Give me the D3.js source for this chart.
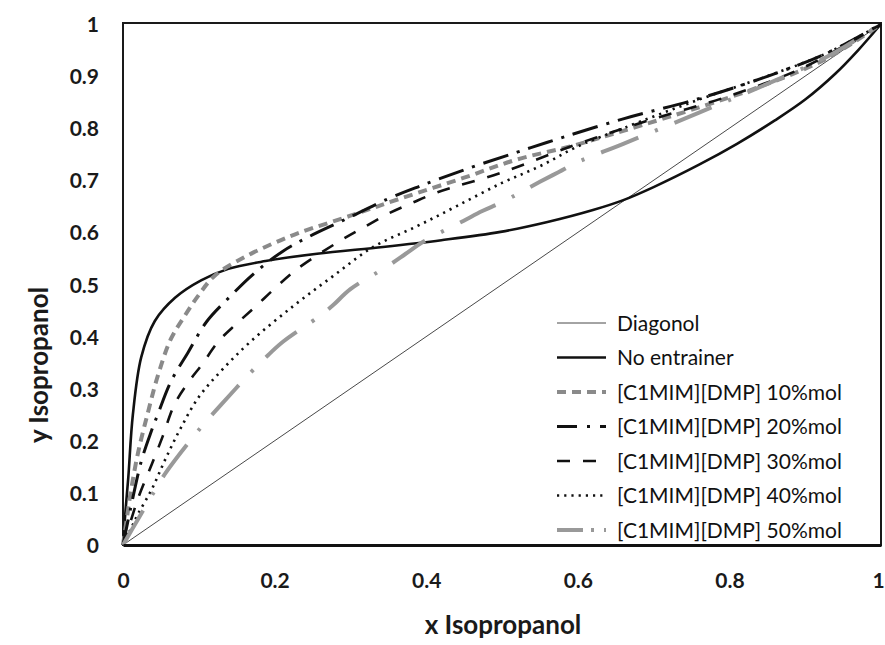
<!DOCTYPE html>
<html>
<head>
<meta charset="utf-8">
<script src="https://cdn.jsdelivr.net/npm/d3@7"></script>
<style>
  html, body { margin: 0; padding: 0; background: #fff; }
  svg { display: block; }
</style>
</head>
<body>
<script>
// tick labels
const xTicks = [0, 0.2, 0.4, 0.6, 0.8, 1]
const yTicks = [0, 0.1, 0.2, 0.3, 0.4, 0.5, 0.6, 0.7, 0.8, 0.9, 1]

// series values (x = liquid, y = vapour)
const diagX = [0, 1]
const diagY = [0, 1]

const noEntX = [0, 0.003, 0.007, 0.013, 0.024, 0.042, 0.069, 0.103, 0.139, 0.188, 0.256, 0.343, 0.42, 0.498, 0.56, 0.62, 0.66, 0.7, 0.76, 0.81, 0.86, 0.9, 0.94, 0.97, 1]
const noEntY = [0, 0.06, 0.13, 0.25, 0.36, 0.43, 0.475, 0.508, 0.53, 0.545, 0.559, 0.572, 0.585, 0.601, 0.62, 0.643, 0.662, 0.687, 0.73, 0.77, 0.815, 0.855, 0.905, 0.95, 1]

const il10X = [0, 0.005, 0.01, 0.02, 0.033, 0.046, 0.063, 0.0815, 0.1, 0.121, 0.161, 0.2, 0.234, 0.3, 0.366, 0.45, 0.52, 0.59, 0.66, 0.76, 0.85, 0.93, 1]
const il10Y = [0, 0.05, 0.1, 0.178, 0.255, 0.325, 0.395, 0.44, 0.48, 0.517, 0.553, 0.58, 0.6, 0.632, 0.665, 0.705, 0.74, 0.765, 0.795, 0.84, 0.885, 0.935, 1]

const il20X = [0, 0.01, 0.024, 0.037, 0.046, 0.063, 0.086, 0.11, 0.14, 0.172, 0.211, 0.247, 0.289, 0.349, 0.392, 0.45, 0.52, 0.56, 0.66, 0.758, 0.851, 0.93, 1]
const il20Y = [0, 0.07, 0.16, 0.217, 0.251, 0.313, 0.37, 0.428, 0.475, 0.52, 0.564, 0.593, 0.622, 0.664, 0.689, 0.72, 0.754, 0.773, 0.818, 0.856, 0.90, 0.945, 1]

const il30X = [0, 0.01, 0.02, 0.038, 0.052, 0.068, 0.086, 0.105, 0.126, 0.15, 0.175, 0.202, 0.23, 0.29, 0.318, 0.35, 0.382, 0.415, 0.5, 0.6, 0.7, 0.8, 0.9, 1]
const il30Y = [0, 0.045, 0.09, 0.155, 0.207, 0.27, 0.312, 0.348, 0.391, 0.425, 0.458, 0.495, 0.53, 0.587, 0.61, 0.636, 0.657, 0.677, 0.715, 0.77, 0.818, 0.862, 0.918, 1]

const il40X = [0, 0.01, 0.02, 0.038, 0.056, 0.076, 0.1, 0.13, 0.168, 0.225, 0.277, 0.33, 0.388, 0.441, 0.5, 0.55, 0.6, 0.66, 0.76, 0.85, 0.93, 1]
const il40Y = [0, 0.03, 0.06, 0.107, 0.165, 0.224, 0.284, 0.335, 0.39, 0.459, 0.516, 0.572, 0.612, 0.651, 0.695, 0.727, 0.765, 0.80, 0.855, 0.90, 0.945, 1]

const il50X = [0, 0.02, 0.04, 0.057, 0.09, 0.11, 0.128, 0.169, 0.189, 0.211, 0.26, 0.277, 0.30, 0.35, 0.373, 0.396, 0.449, 0.474, 0.50, 0.55, 0.575, 0.60, 0.66, 0.76, 0.85, 0.93, 1]
const il50Y = [0, 0.05, 0.1, 0.14, 0.203, 0.238, 0.267, 0.332, 0.361, 0.39, 0.44, 0.46, 0.491, 0.536, 0.559, 0.582, 0.622, 0.641, 0.658, 0.697, 0.716, 0.735, 0.77, 0.83, 0.885, 0.938, 1]

const seriesNames = ["Diagonol", "No entrainer", "[C1MIM][DMP] 10%mol", "[C1MIM][DMP] 20%mol",
    "[C1MIM][DMP] 30%mol", "[C1MIM][DMP] 40%mol", "[C1MIM][DMP] 50%mol"]

const xLabel = "x Isopropanol"
const yLabel = "y Isopropanol"

// styles for each series
const styles = [
    { color: "#333", width: 0.9, dash: null },
    { color: "#111", width: 2.6, dash: null },
    { color: "#8a8a8a", width: 4, dash: "9,6" },
    { color: "#111", width: 3, dash: "26,9,3,9" },
    { color: "#111", width: 2.6, dash: "13,13" },
    { color: "#111", width: 2.6, dash: "2.2,5" },
    { color: "#999", width: 4, dash: "40,18,3,18" }
]

const width = 885
const height = 645
const plotLeft = 123, plotRight = 881, plotTop = 24, plotBottom = 545

const svg = d3.select("body").append("svg")
    .attr("width", width)
    .attr("height", height)

const xScale = d3.scaleLinear().domain([0, 1]).range([plotLeft, plotRight])
const yScale = d3.scaleLinear().domain([0, 1]).range([plotBottom, plotTop])

const font = "Lato, 'Open Sans', sans-serif"

// frame
svg.append("rect")
    .attr("x", plotLeft).attr("y", plotTop - 1)
    .attr("width", plotRight - plotLeft).attr("height", plotBottom - plotTop + 1)
    .attr("fill", "none")
    .attr("stroke", "#1a1a1a")
    .attr("stroke-width", 2)

const allX = [diagX, noEntX, il10X, il20X, il30X, il40X, il50X]
const allY = [diagY, noEntY, il10Y, il20Y, il30Y, il40Y, il50Y]

const series = seriesNames.map((name, i) => ({
    name: name,
    style: styles[i],
    points: allX[i].map((x, j) => [x, allY[i][j]])
}))

const line = d3.line()
    .x(d => xScale(d[0]))
    .y(d => yScale(d[1]))
    .curve(d3.curveCatmullRom.alpha(0.5))

svg.append("g")
    .selectAll("path")
    .data(series)
    .join("path")
    .attr("d", d => line(d.points))
    .attr("fill", "none")
    .attr("stroke", d => d.style.color)
    .attr("stroke-width", d => d.style.width)
    .attr("stroke-dasharray", d => d.style.dash)
    .attr("stroke-linecap", "butt")
    .attr("stroke-linejoin", "round")

// x axis
const xAxis = d3.axisBottom(xScale).tickValues(xTicks).tickSize(0).tickFormat(d3.format("~g"))
svg.append("g")
    .attr("transform", `translate(0,${plotBottom})`)
    .call(xAxis)
    .call(g => g.select(".domain").attr("stroke", "#111").attr("stroke-width", 3))
    .call(g => g.selectAll("text")
        .attr("y", 43)
        .attr("dy", 0)
        .attr("x", d => d === 1 ? -3 : 0)
        .attr("fill", "#1a1a1a")
        .style("font-family", font)
        .style("font-weight", "bold")
        .style("font-size", "21px"))

// y axis
const yAxis = d3.axisLeft(yScale).tickValues(yTicks).tickSize(0).tickFormat(d3.format("~g"))
svg.append("g")
    .attr("transform", `translate(${plotLeft},0)`)
    .call(yAxis)
    .call(g => g.select(".domain").remove())
    .call(g => g.selectAll("text")
        .attr("x", -24)
        .attr("dy", "0.36em")
        .attr("fill", "#1a1a1a")
        .style("font-family", font)
        .style("font-weight", "bold")
        .style("font-size", "21px"))

// axis titles
svg.append("text")
    .attr("x", (plotLeft + plotRight) / 2 + 1)
    .attr("y", 634)
    .attr("text-anchor", "middle")
    .attr("fill", "#1a1a1a")
    .style("font-family", font)
    .style("font-weight", "bold")
    .style("font-size", "26px")
    .text(xLabel)

svg.append("text")
    .attr("transform", "translate(48,365) rotate(-90)")
    .attr("text-anchor", "middle")
    .attr("fill", "#1a1a1a")
    .style("font-family", font)
    .style("font-weight", "bold")
    .style("font-size", "26px")
    .text(yLabel)

// legend
const legX = 557, legLen = 49, legTextX = 617, legY = 323, legStep = 34.5

const leg = svg.append("g")
    .selectAll("g")
    .data(series)
    .join("g")
    .attr("transform", (d, i) => `translate(0,${legY + i * legStep})`)

leg.append("line")
    .attr("x1", legX).attr("x2", legX + legLen)
    .attr("y1", 0).attr("y2", 0)
    .attr("stroke", d => d.style.color)
    .attr("stroke-width", d => d.style.width)
    .attr("stroke-dasharray", (d, i) => i === 6 ? "26,8,3,10" : (i === 3 ? "20,10,3,10" : d.style.dash))

leg.append("text")
    .attr("x", legTextX)
    .attr("y", 0)
    .attr("dy", "0.36em")
    .attr("fill", "#111")
    .style("font-family", font)
    .style("font-size", "21px")
    .text(d => d.name)
</script>
</body>
</html>
